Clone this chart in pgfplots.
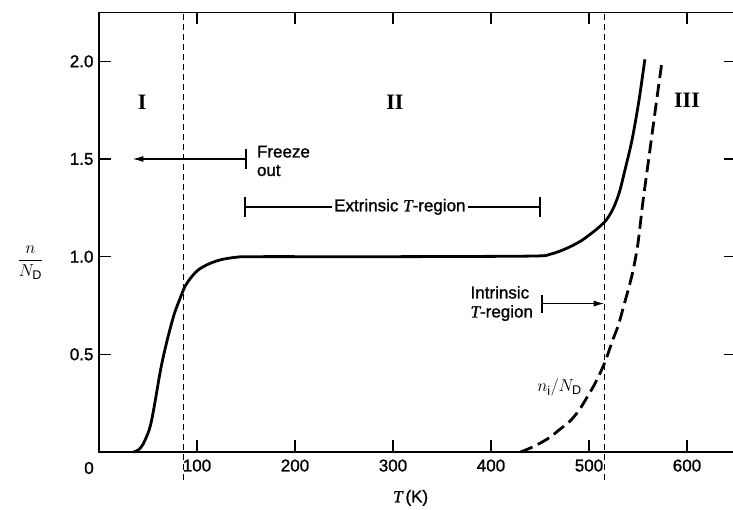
\documentclass[border=0pt]{standalone}
\usepackage{pgfplots}
\pgfplotsset{compat=1.18}
\usepackage{fontspec}
\setmainfont{Liberation Sans}
\newfontfamily\semib{Liberation Sans}[FakeBold=1.2]
\newfontfamily\serifrm{Liberation Serif}[FakeBold=1.2]
\newfontfamily\serifbf{Liberation Serif}
\usetikzlibrary{arrows.meta}
\begin{document}
\begin{tikzpicture}
\useasboundingbox (-99pt,-57pt) rectangle (634pt,452pt);
\clip (-99pt,-57pt) rectangle (634pt,452pt);
\begin{axis}[
  at={(0pt,0pt)}, anchor=south west,
  scale only axis, width=637pt, height=439.5pt,
  xmin=0, xmax=650, ymin=0, ymax=2.25,
  xtick={100,200,300,400,500,600},
  ytick={0.5,1.0,1.5,2.0},
  xtick pos=both, ytick pos=both,
  xticklabel pos=lower, yticklabel pos=left,
  tick align=inside, major tick length=12pt, minor tick num=0,
  axis line style={line width=1.4pt},
  every tick/.style={black, line width=1.2pt},
  /pgf/number format/assume math mode=true,
  tick label style={font=\semib\fontsize{17}{20}\selectfont},
  yticklabel style={/pgf/number format/fixed, /pgf/number format/fixed zerofill, /pgf/number format/precision=1, xshift=-2pt},
  xticklabel style={yshift=-4pt},
  clip=false,
]
% vertical dashed boundaries
\addplot[black, line width=1.4pt, dash pattern=on 6pt off 4pt] coordinates {(86.5,-0.143) (86.5,2.25)};
\addplot[black, line width=1.4pt, dash pattern=on 6pt off 4pt] coordinates {(516,-0.143) (516,2.25)};
% n/N_D (solid)
\addplot[black, line width=2.8pt, smooth, tension=0.5] coordinates {
(35,0) (40,0.01) (45,0.04) (51,0.11) (54,0.17) (58,0.28) (61,0.37) (64,0.45)
(68,0.54) (72,0.62) (77,0.71) (83,0.79) (88,0.85) (95,0.90) (102,0.935)
(113,0.965) (125,0.985) (140,0.997) (160,1.0) (300,1.0) (440,1.003)
(460,1.012) (476,1.04) (490,1.075) (500,1.11) (510,1.15) (518,1.19)
(525,1.25) (531,1.33) (537,1.45) (544,1.60) (551,1.80) (557,2.01)};
% n_i/N_D (dashed)
\addplot[black, line width=2.8pt, dash pattern=on 13pt off 6pt, smooth, tension=0.5] coordinates {
(430,0) (440,0.02) (450,0.045) (460,0.075) (470,0.115) (481,0.16) (490,0.215)
(498,0.28) (505,0.34) (511,0.40) (517,0.47) (524,0.57) (530,0.65) (535,0.74)
(540,0.83) (545,0.93) (550,1.07) (555,1.28) (562,1.54) (569,1.80) (574.5,2.0)};
% zero label
\node[font=\semib\fontsize{17}{20}\selectfont, xshift=-10pt, yshift=-16pt] at (axis cs:0,0) {0};
% axis labels
\node[font=\fontsize{18}{20}\selectfont] at (axis cs:-70,0.97) {$\displaystyle\frac{n}{N_{\mathrm{D}}}$};
\node[font=\semib\fontsize{17}{20}\selectfont] at (axis cs:318,-0.235) {{\serifrm\itshape T}\,(K)};
% region labels
\node[font=\serifbf\bfseries\fontsize{22}{24}\selectfont] at (axis cs:44,1.79) {I};
\node[font=\serifbf\bfseries\fontsize{22}{24}\selectfont] at (axis cs:302,1.79) {II};
\node[font=\serifbf\bfseries\fontsize{22}{24}\selectfont] at (axis cs:600,1.80) {III};
% freeze out
\draw[line width=1.4pt, -{Latex[length=11pt,width=6pt]}] (axis cs:150,1.5) -- (axis cs:34,1.5);
\draw[line width=1.4pt] ([yshift=-10pt]axis cs:150,1.5) -- ([yshift=10pt]axis cs:150,1.5);
\node[anchor=west, inner sep=0pt, align=left, font=\semib\fontsize{17}{18.5}\selectfont] at (axis cs:161,1.49) {Freeze\\out};
% extrinsic
\draw[line width=1.4pt] (axis cs:149,1.255) -- (axis cs:450,1.255);
\draw[line width=1.4pt] ([yshift=-10pt]axis cs:149,1.255) -- ([yshift=10pt]axis cs:149,1.255);
\draw[line width=1.4pt] ([yshift=-10pt]axis cs:450,1.255) -- ([yshift=10pt]axis cs:450,1.255);
\node[fill=white, inner sep=2pt, font=\semib\fontsize{17}{20}\selectfont] at (axis cs:307,1.255) {Extrinsic {\serifrm\itshape T}-region};
% intrinsic
\draw[line width=1.4pt, -{Latex[length=11pt,width=6pt]}] (axis cs:452,0.76) -- (axis cs:516,0.76);
\draw[line width=1.4pt] ([yshift=-9pt]axis cs:452,0.76) -- ([yshift=9pt]axis cs:452,0.76);
\node[anchor=east, inner sep=0pt, align=left, font=\semib\fontsize{17}{19}\selectfont] at (axis cs:443,0.76) {Intrinsic\\{\serifrm\itshape T}-region};
\node[font=\fontsize{18}{20}\selectfont] at (axis cs:470,0.33) {$n_{\mathrm{i}}/N_{\mathrm{D}}$};
\end{axis}
\end{tikzpicture}
\end{document}
